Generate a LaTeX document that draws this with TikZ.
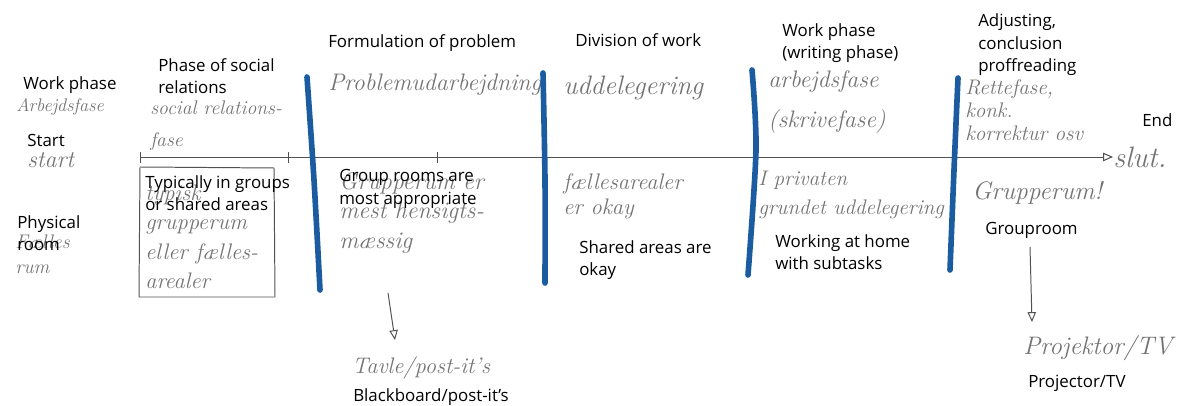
\documentclass[tikz,border=0pt]{standalone}
\usepackage{fontspec}
\setsansfont{Open Sans}
\usetikzlibrary{arrows.meta}
\definecolor{pen_blue}{RGB}{27,92,160}
\definecolor{pencil_gray}{RGB}{115,115,115}

\tikzset{
  english/.style={anchor=west, align=left, inner sep=0pt, text=black,
    font=\sffamily\fontsize{12}{16}\selectfont},
  hand/.style 2 args={anchor=west, align=left, inner sep=0pt, text=pencil_gray,
    font=\itshape\fontsize{#1}{#2}\selectfont},
  divider/.style={pen_blue, line width=4pt, line cap=round},
  pencil/.style={pencil_gray!70!black, line width=0.7pt},
  pencil_arrow/.style={pencil, -{Triangle[open, length=7pt, width=6pt]}},
}

\begin{document}
\begin{tikzpicture}[x=0.025cm, y=-0.025cm]
    % sheet: 1192 x 406 units, y runs downwards
    \useasboundingbox (0,0) rectangle (1192,406);

    % Row headings on the left
    \node[english] (wp_en) at (23,85) {Work phase};
    \node[hand={13}{16}] (wp_dk) at (16,107) {Arbejdsfase};
    \node[english] (start_en) at (27,140) {Start};
    \node[hand={17}{20}] (start_dk) at (27,160) {start};
    \node[hand={14}{17.7}] (room_dk) at (15,254) {Fælles\\rum};
    \node[english] (room_en) at (17,233) {Physical\\room};

    % Timeline with ticks
    \node[hand={21}{24}] (slut_dk) at (1113,157) {slut.};
    \node[english] (end_en) at (1142,120) {End};
    \coordinate (tl_start) at (140,157);
    \draw[pencil_arrow] (tl_start) -- (slut_dk.west);
    \foreach \x in {140,288,437}
      \draw[pencil] (\x,152) -- (\x,163);

    % Phase of social relations
    \node[english] (social_en) at (158,76) {Phase of social\\relations};
    \node[hand={14}{22.7}] (social_dk) at (150,126) {social relations-\\fase};
    \draw[pencil] (140,167) -- (274,168) -- (275,297) -- (139,297) -- cycle;
    \node[hand={16}{21}] (typical_dk) at (145,237)
      {typisk\\grupperum\\eller fælles-\\arealer};
    \node[english] (typical_en) at (145,193) {Typically in groups\\or shared areas};

    % Formulation of problem
    \node[english] (formul_en) at (328,43) {Formulation of problem};
    \node[hand={17}{20}] (problem_dk) at (328,85) {Problemudarbejdning};
    \node[hand={17}{21}] (grooms_dk) at (339,213)
      {Grupperum er\\mest hensigts-\\mæssig};
    \node[english] (grooms_en) at (339,189) {Group rooms are\\most appropriate};
    \node[hand={16}{19}] (board_dk) at (352,368) {Tavle/post-it's};
    \node[english] (board_en) at (353,397) {Blackboard/post-it’s};
    \coordinate (board_from) at (388,293);
    \coordinate (board_to) at (395,340);
    \draw[pencil_arrow] (board_from) -- (board_to);

    % Division of work
    \node[english] (division_en) at (575,40) {Division of work};
    \node[hand={19}{22}] (deleg_dk) at (563,88) {uddelegering};
    \node[hand={16}{17.7}] (shared_dk) at (563,196) {fællesarealer\\er okay};
    \node[english] (shared_en) at (579,260) {Shared areas are\\okay};

    % Work phase (writing)
    \node[english] (writing_en) at (782,43) {Work phase\\(writing phase)};
    \node[hand={17}{29}] (writing_dk) at (768,102) {arbejdsfase\\(skrivefase)};
    \node[hand={15}{21}] (home_dk) at (758,195) {I privaten\\grundet uddelegering};
    \node[english] (home_en) at (775,252) {Working at home\\with subtasks};

    % Adjusting and proofreading
    \node[english] (adjust_en) at (978,45) {Adjusting,\\conclusion\\proffreading};
    \node[hand={15}{16.3}] (adjust_dk) at (965,110) {Rettefase,\\konk.\\korrektur osv};
    \node[hand={18}{21}] (grouproom_dk) at (972,193) {Grupperum!};
    \node[english] (grouproom_en) at (985,230) {Grouproom};
    \node[hand={18}{21}] (projector_dk) at (1023,348) {Projektor/TV};
    \node[english] (projector_en) at (1028,383) {Projector/TV};
    \coordinate (proj_from) at (1030,247);
    \coordinate (proj_to) at (1032,322);
    \draw[pencil_arrow] (proj_from) -- (proj_to);

    % Blue phase dividers
    \draw[divider] plot[smooth] coordinates {(307,77) (314,180) (320,290)};
    \draw[divider] plot[smooth] coordinates {(543,73) (545,180) (545,283)};
    \draw[divider] plot[smooth] coordinates {(752,70) (756,150) (748,275)};
    \draw[divider] plot[smooth] coordinates {(958,78) (954,170) (950,270)};
\end{tikzpicture}
\end{document}
